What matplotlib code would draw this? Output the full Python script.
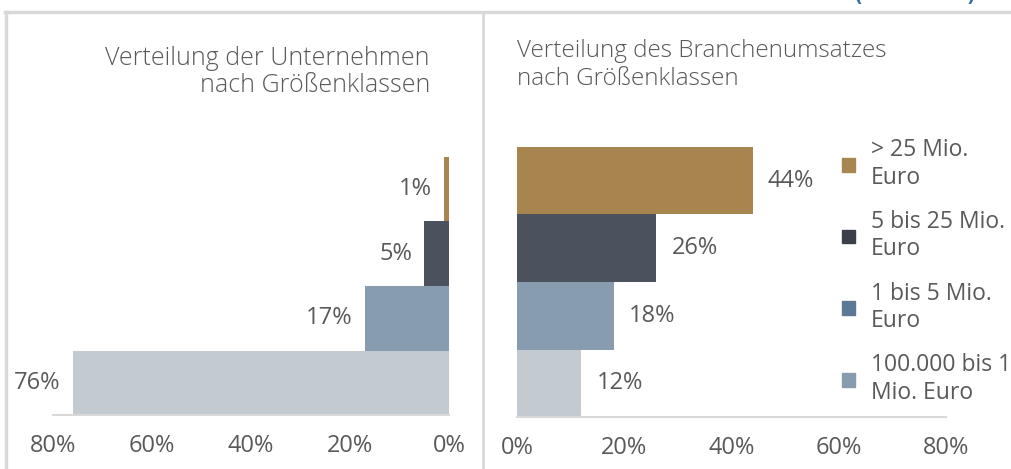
import matplotlib
matplotlib.use("Agg")
import matplotlib.pyplot as plt
from matplotlib.patches import Patch
from matplotlib.lines import Line2D

plt.rcParams['font.family'] = ['Open Sans', 'DejaVu Sans']

# data (bottom to top)
classes = ['100.000 bis 1\nMio. Euro', '1 bis 5 Mio.\nEuro', '5 bis 25 Mio.\nEuro', '> 25 Mio.\nEuro']
firms = [76, 17, 5, 1]
revenue = [12, 18, 26, 44]
ticks = [0, 20, 40, 60, 80]

bar_colors = ['#c3cbd1', '#879caf', '#4b525e', '#a8854f']
legend_colors = ['#879caf', '#5c7a96', '#3a3f4a', '#a8864f']
text_col = '#595959'
grid_col = '#d9d9d9'

W, H = 1012, 469
fig = plt.figure(figsize=(W / 100, H / 100), dpi=100)


def px(x0, y0, x1, y1):
    return [x0 / W, 1 - y1 / H, (x1 - x0) / W, (y1 - y0) / H]


# frame lines
fig.add_artist(Line2D([5 / W, 1], [1 - 12 / H] * 2, color=grid_col, lw=2.5))
fig.add_artist(Line2D([6 / W] * 2, [0, 1 - 12 / H], color=grid_col, lw=2.5))
fig.add_artist(Line2D([483.5 / W] * 2, [0, 1 - 12 / H], color=grid_col, lw=2))
fig.text(915 / W, 1.0, '(in Prozent)', color='#3a6ea5', fontsize=15,
         fontweight='bold', ha='center', va='baseline')

ypos = range(len(classes))


def style(ax):
    for s in ['top', 'right', 'left']:
        ax.spines[s].set_visible(False)
    ax.spines['bottom'].set_color(grid_col)
    ax.spines['bottom'].set_linewidth(1.5)
    ax.set_yticks([])
    ax.set_xticks(ticks)
    ax.set_xticklabels([f'{t}%' for t in ticks])
    ax.tick_params(axis='x', length=0, pad=14, labelsize=17, labelcolor=text_col)
    ax.set_ylim(-0.5, len(classes) - 0.5)


# left panel
ax1 = fig.add_axes(px(53, 157, 449, 415))
ax1.barh(ypos, firms, height=1.0, color=bar_colors)
ax1.set_xlim(80, 0)
style(ax1)
for y, v in zip(ypos, firms):
    ax1.annotate(f'{v}%', (v, y), xytext=(-12, 0), textcoords='offset pixels',
                 ha='right', va='center', fontsize=17, color=text_col)
fig.text(430 / W, 1 - 72 / H, 'Verteilung der Unternehmen\nnach Größenklassen',
         ha='right', va='center', fontsize=18, color=text_col,
         fontweight='light', linespacing=1.15)

# right panel
ax2 = fig.add_axes(px(517, 147, 946, 417))
ax2.barh(ypos, revenue, height=1.0, color=bar_colors)
ax2.set_xlim(0, 80)
style(ax2)
for y, v in zip(ypos, revenue):
    ax2.annotate(f'{v}%', (v, y), xytext=(15, 0), textcoords='offset pixels',
                 ha='left', va='center', fontsize=17, color=text_col)
fig.text(517 / W, 1 - 65 / H, 'Verteilung des Branchenumsatzes\nnach Größenklassen',
         ha='left', va='center', fontsize=17.5, color=text_col,
         fontweight='light', linespacing=1.2)

handles = [Patch(color=c, label=l) for c, l in zip(legend_colors, classes)]
leg = fig.legend(handles=handles[::-1], loc='upper left',
                 bbox_to_anchor=(842 / W, 1 - 138 / H), frameon=False,
                 fontsize=16.5, labelcolor=text_col, handlelength=0.55,
                 handleheight=0.55, handletextpad=0.7, labelspacing=0.88,
                 borderaxespad=0, borderpad=0)

fig.savefig('out.png', dpi=100)
